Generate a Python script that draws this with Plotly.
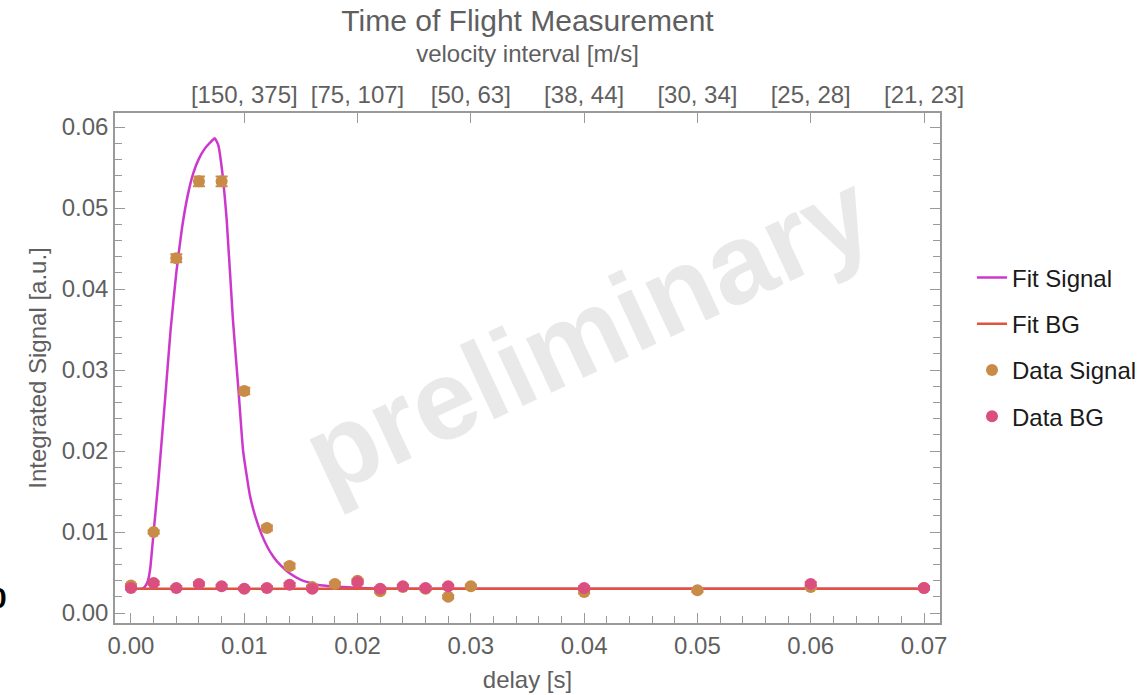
import plotly.graph_objects as go

# ---- data ----
delay_sig = [0.000, 0.002, 0.004, 0.006, 0.008, 0.010, 0.012, 0.014, 0.016, 0.018,
             0.020, 0.022, 0.024, 0.026, 0.028, 0.030, 0.040, 0.050, 0.060, 0.070]
signal = [0.0034, 0.0100, 0.0438, 0.0533, 0.0533, 0.0274, 0.0105, 0.0058, 0.0032, 0.0036,
          0.0040, 0.0027, 0.0032, 0.0030, 0.0020, 0.0033, 0.0026, 0.0028, 0.0032, 0.0031]
signal_err = [0.0002, 0.0002, 0.0005, 0.0006, 0.0006, 0.0004, 0.0003, 0.0003, 0.0002, 0.0002,
              0.0002, 0.0002, 0.0002, 0.0002, 0.0002, 0.0002, 0.0002, 0.0002, 0.0002, 0.0002]

delay_bg = [0.000, 0.002, 0.004, 0.006, 0.008, 0.010, 0.012, 0.014, 0.016,
            0.020, 0.022, 0.024, 0.026, 0.028, 0.040, 0.060, 0.070]
bg = [0.0031, 0.0037, 0.0031, 0.0036, 0.0033, 0.0030, 0.0031, 0.0035, 0.0030,
      0.0038, 0.0030, 0.0033, 0.0031, 0.0033, 0.0031, 0.0036, 0.0031]
bg_err = [0.0002] * len(bg)

fit_sig_x = [0.0000, 0.0010, 0.0012, 0.0015, 0.0017, 0.0020, 0.0024, 0.0030, 0.0035, 0.0040,
             0.0045, 0.0050, 0.0055, 0.0060, 0.0065, 0.0070, 0.0074, 0.0077, 0.0080, 0.00845,
             0.0090, 0.0095, 0.0099, 0.0105, 0.0110, 0.0115, 0.0121, 0.0126, 0.0132, 0.0140,
             0.0150, 0.0164, 0.0187, 0.0220, 0.0300, 0.0700]
fit_sig_y = [0.0030, 0.0030, 0.0032, 0.0040, 0.0055, 0.0100, 0.0160, 0.0262, 0.0350, 0.0420,
             0.0475, 0.0515, 0.0543, 0.0561, 0.0573, 0.0581, 0.0586, 0.0578, 0.0551, 0.0485,
             0.0362, 0.0273, 0.0200, 0.0145, 0.0118, 0.0098, 0.0080, 0.0069, 0.0059, 0.0049,
             0.0041, 0.0035, 0.0032, 0.0030, 0.0030, 0.0030]

fit_bg_x = [0.000, 0.070]
fit_bg_y = [0.0030, 0.0030]

top_tickvals = [0.01, 0.02, 0.03, 0.04, 0.05, 0.06, 0.07]
top_ticktext = ["[150, 375]", "[75, 107]", "[50, 63]", "[38, 44]", "[30, 34]", "[25, 28]", "[21, 23]"]

# ---- style ----
FONT = "Liberation Sans, Arial, sans-serif"
C_FITSIG = "#CC38CC"
C_FITBG = "#E0533C"
C_DSIG = "#C98B48"
C_DBG = "#DB4F7E"
AXC = "#9a9a9a"
TXT = "#5f5f5f"
FS = 24

fig = go.Figure()
fig.add_trace(go.Scatter(x=fit_sig_x, y=fit_sig_y, mode="lines", name="Fit Signal",
                         line=dict(color=C_FITSIG, width=2.5, shape="spline", smoothing=0.4),
                         legendgroup="a"))
fig.add_trace(go.Scatter(x=fit_bg_x, y=fit_bg_y, mode="lines", name="Fit BG",
                         line=dict(color=C_FITBG, width=2.5), legendgroup="b"))
fig.add_trace(go.Scatter(x=delay_sig, y=signal, mode="markers", name="Data Signal",
                         marker=dict(color=C_DSIG, size=12),
                         error_y=dict(type="data", array=signal_err, color=C_DSIG,
                                      thickness=2, width=6),
                         legendgroup="c"))
fig.add_trace(go.Scatter(x=delay_bg, y=bg, mode="markers", name="Data BG",
                         marker=dict(color=C_DBG, size=12),
                         error_y=dict(type="data", array=bg_err, color=C_DBG,
                                      thickness=2, width=6),
                         legendgroup="d"))
# invisible trace to activate top axis
fig.add_trace(go.Scatter(x=[0.01], y=[0.0], xaxis="x2", mode="markers",
                         marker=dict(opacity=0), showlegend=False, hoverinfo="skip"))

xr = [-0.00141, 0.07141]
yr = [-0.00123, 0.06173]

fig.update_layout(
    width=1137, height=695,
    margin=dict(l=115, r=197, t=113, b=72, autoexpand=False),
    paper_bgcolor="white", plot_bgcolor="white",
    font=dict(family=FONT, color=TXT),
    title=dict(text="Time of Flight Measurement", x=(115 + 825 / 2) / 1137, xanchor="center",
               y=1 - 20 / 695, yanchor="middle",
               font=dict(size=30, color=TXT, family=FONT)),
    xaxis=dict(range=xr, tickvals=[0.0, 0.01, 0.02, 0.03, 0.04, 0.05, 0.06, 0.07],
               tickformat=".2f", ticks="inside", ticklen=10, tickwidth=1, tickcolor=AXC,
               minor=dict(dtick=0.002, tick0=0, ticks="inside", ticklen=7, tickcolor=AXC, tickwidth=1),
               showline=True, linecolor=AXC, linewidth=1.5, mirror=True,
               showgrid=False, zeroline=False,
               tickfont=dict(size=FS, color=TXT),
               title=dict(text="delay [s]", font=dict(size=FS, color=TXT), standoff=14)),
    xaxis2=dict(range=xr, overlaying="x", side="top", tickvals=top_tickvals, ticktext=top_ticktext,
                ticks="inside", ticklen=10, tickwidth=1, tickcolor=AXC, showline=False,
                showgrid=False, zeroline=False, ticklabelstandoff=4,
                tickfont=dict(size=FS, color=TXT),
                title=dict(text="velocity interval [m/s]", font=dict(size=FS, color=TXT), standoff=11)),
    yaxis=dict(range=yr, dtick=0.01, tick0=0, tickformat=".2f", ticks="inside", ticklen=10,
               tickwidth=1, tickcolor=AXC,
               minor=dict(dtick=0.002, tick0=0, ticks="inside", ticklen=7, tickcolor=AXC, tickwidth=1),
               showline=True, linecolor=AXC, linewidth=1.5, mirror="ticks",
               showgrid=False, zeroline=False,
               tickfont=dict(size=FS, color=TXT),
               title=dict(text="Integrated Signal [a.u.]", font=dict(size=FS, color=TXT), standoff=8)),
    legend=dict(x=(972 - 115) / 825, xanchor="left", y=(623 - 347) / 510, yanchor="middle",
                font=dict(size=FS, color="#1a1a1a", family=FONT), tracegroupgap=12,
                itemwidth=30, bgcolor="rgba(0,0,0,0)"),
    showlegend=True,
)

fig.add_annotation(text="preliminary", xref="paper", yref="paper",
                   x=(587 - 115) / 825, y=(623 - 333) / 510, showarrow=False,
                   textangle=-25, font=dict(size=113, color="#e9e9e9", family=FONT, weight="bold"))
fig.add_annotation(text="<b>0</b>", xref="paper", yref="paper",
                   x=(9 - 115) / 825, xanchor="right", y=(623 - 597) / 510, yanchor="middle",
                   showarrow=False, font=dict(size=30, color="black", family=FONT))

fig.write_html("out.html")
